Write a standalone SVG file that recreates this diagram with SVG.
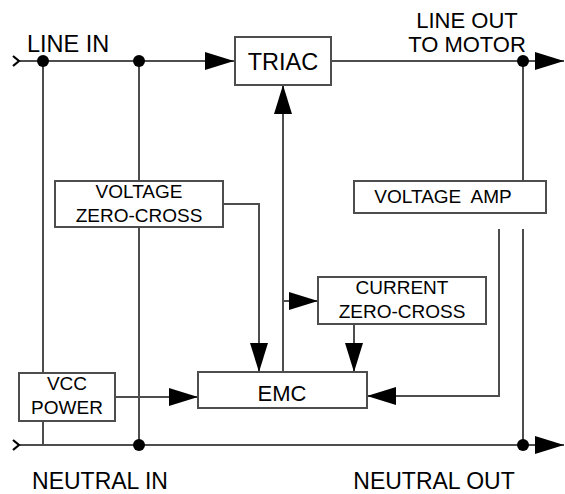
<svg xmlns="http://www.w3.org/2000/svg" width="565" height="494" viewBox="0 0 565 494">
<style>
.w{fill:none;stroke:#4d4d4d;stroke-width:2}
.b{fill:#fff;stroke:#4d4d4d;stroke-width:2}
.t{font-family:"Liberation Sans",Arial,sans-serif;fill:#000;text-anchor:middle}
.s{font-size:19px}
.l{font-size:23.5px}
.ch{fill:none;stroke:#000;stroke-width:2.2}
</style>
<defs>
<marker id="ah" markerUnits="userSpaceOnUse" markerWidth="30" markerHeight="20" refX="29" refY="9" orient="auto" viewBox="0 0 30 20">
<path d="M0,0 L29,9 L0,18 Z" fill="#000"/>
</marker>
</defs>
<rect width="565" height="494" fill="#fff"/>
<g id="connectors">
<path class="w" d="M20 61 H234" marker-end="url(#ah)"/>
<path class="w" d="M331 61 H564" marker-end="url(#ah)"/>
<path class="w" d="M20 445 H564" marker-end="url(#ah)"/>
<path class="w" d="M43 61 V373 M43 421 V445"/>
<path class="w" d="M139 61 V181 M139 227 V445"/>
<path class="w" d="M223 204 H259 V372" marker-end="url(#ah)"/>
<path class="w" d="M283 372 V85" marker-end="url(#ah)"/>
<path class="w" d="M283 301 H318" marker-end="url(#ah)"/>
<path class="w" d="M354 324 V372" marker-end="url(#ah)"/>
<path class="w" d="M523 61 V181"/>
<path class="w" d="M499 229 V396 H367" marker-end="url(#ah)"/>
<path class="w" d="M523 229 V445"/>
<path class="w" d="M115 397 H198" marker-end="url(#ah)"/>
<polyline class="ch" points="13,56 19,61 13,66"/>
<polyline class="ch" points="13,440 19,445 13,450"/>
<g fill="#000">
<circle cx="43" cy="61" r="6"/>
<circle cx="139" cy="61" r="6"/>
<circle cx="523" cy="61" r="6"/>
<circle cx="139" cy="445" r="6"/>
<circle cx="523" cy="445" r="6"/>
</g>
</g>
<g id="triac">
<rect class="b" x="235" y="37" width="96" height="48"/>
<text class="t l" x="283" y="70">TRIAC</text>
</g>
<g id="voltage-zero-cross">
<rect class="b" x="55" y="181" width="168" height="46"/>
<text class="t s" x="139" y="198">VOLTAGE</text>
<text class="t s" x="139" y="222">ZERO-CROSS</text>
</g>
<g id="voltage-amp">
<rect class="b" x="354" y="181" width="192" height="32"/>
<text class="t s" x="443" y="203" word-spacing="5">VOLTAGE AMP</text>
</g>
<g id="current-zero-cross">
<rect class="b" x="318" y="277" width="168" height="47"/>
<text class="t s" x="402" y="294">CURRENT</text>
<text class="t s" x="402" y="318">ZERO-CROSS</text>
</g>
<g id="emc">
<rect class="b" x="198" y="372" width="169" height="36"/>
<text class="t" x="282" y="401" font-size="22">EMC</text>
</g>
<g id="vcc-power">
<rect class="b" x="19" y="373" width="96" height="48"/>
<text class="t s" x="67" y="390">VCC</text>
<text class="t s" x="67" y="414">POWER</text>
</g>
<g id="labels">
<text class="t l" x="27" y="52" style="text-anchor:start">LINE IN</text>
<text class="t" x="467" y="28" font-size="22">LINE OUT</text>
<text class="t" x="467" y="52" font-size="22">TO MOTOR</text>
<text class="t" x="100" y="489" font-size="23">NEUTRAL IN</text>
<text class="t" x="434" y="489" font-size="23">NEUTRAL OUT</text>
</g>
</svg>
